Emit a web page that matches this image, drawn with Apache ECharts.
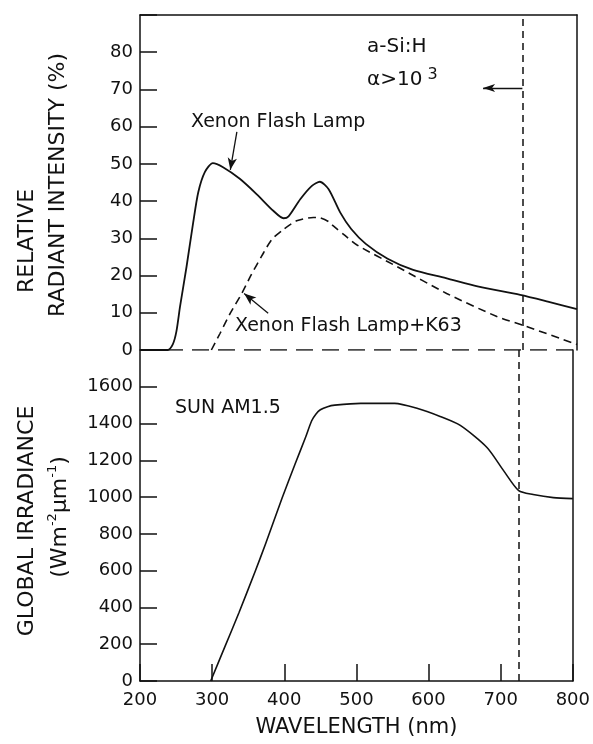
<!DOCTYPE html>
<html>
<head>
<meta charset="utf-8">
<script src="https://cdn.jsdelivr.net/npm/echarts@6/dist/echarts.min.js"></script>
<style>
  html, body { margin: 0; padding: 0; background: #fff; }
  #chart { width: 593px; height: 744px; }
</style>
</head>
<body>
<div id="chart"></div>
<script>
// top panel: relative radiant intensity (%)
const xenonWl = [200, 238, 245, 250, 255, 264, 273, 280, 289, 300, 314, 337, 360, 383, 397, 404, 420, 436, 447, 459, 475, 490, 510, 540, 575, 620, 665, 722, 760, 800]
const xenonVal = [0, 0, 1.5, 5, 11.7, 22.5, 34.2, 42.4, 47.8, 50.2, 49.1, 46, 41.9, 37.4, 35.4, 35.9, 40.5, 44.1, 45.2, 43.2, 36.9, 32.5, 28.5, 24.5, 21.5, 19.3, 17, 14.8, 13, 11]
const k63Wl = [298, 310, 324, 340, 353, 367, 381, 397, 415, 438, 447, 459, 465, 480, 498, 553, 621, 690, 725, 800]
const k63Val = [0, 4.5, 9.9, 15.3, 20.3, 25.2, 29.7, 32.4, 34.7, 35.6, 35.5, 34.5, 33.4, 31, 28.2, 22.4, 15.2, 9, 6.7, 1.5]

// bottom panel: global irradiance, sun AM1.5
const sunWl = [298, 317, 337, 360, 374, 397, 415, 429, 438, 444, 450, 460, 470, 506, 553, 585, 616, 644, 681, 704, 725, 745, 773, 800]
const sunVal = [0, 180, 370, 600, 745, 995, 1180, 1320, 1415, 1452, 1475, 1492, 1500, 1510, 1510, 1482, 1439, 1390, 1270, 1144, 1035, 1014, 997, 992]

const wlTicks = [200, 300, 400, 500, 600, 700, 800]
const cutoffWl = 725

const ink = '#111'
const font = 'DejaVu Sans'

const pairs = (xs, ys) => xs.map((x, i) => [x, ys[i]])

const chart = echarts.init(document.getElementById('chart'), null, { renderer: 'canvas' })

const tickLabel = { color: ink, fontFamily: font, fontSize: 18 }
const frameLine = { show: true, onZero: false, lineStyle: { color: ink, width: 1.5 } }
const cutoffLine = {
  silent: true,
  symbol: 'none',
  label: { show: false },
  lineStyle: { color: ink, width: 1.5, type: [7, 5] },
  data: [{ xAxis: cutoffWl, lineStyle: { color: ink, width: 1.5, type: [7, 5] } }]
}

const arrowStyle = { color: ink, width: 1.3, type: 'solid' }

const option = {
  animation: false,
  backgroundColor: '#fff',
  grid: [
    { left: 140, top: 15, width: 437, height: 335 },
    { left: 140, top: 350, width: 437, height: 331 }
  ],
  xAxis: [
    {
      gridIndex: 0, type: 'value', min: 200, max: 800, interval: 100,
      axisLine: { show: false }, axisTick: { show: false }, axisLabel: { show: false }, splitLine: { show: false }
    },
    {
      gridIndex: 0, type: 'value', position: 'top', min: 200, max: 800,
      axisLine: frameLine, axisTick: { show: false }, axisLabel: { show: false }, splitLine: { show: false }
    },
    {
      gridIndex: 1, type: 'value', min: 200, max: 800, interval: 100,
      axisLine: frameLine,
      axisTick: { show: true, inside: true, length: 17, lineStyle: { color: ink, width: 1.5 } },
      axisLabel: Object.assign({ margin: 10, formatter: v => wlTicks.includes(v) ? String(v) : '' }, tickLabel),
      splitLine: { show: false },
      name: 'WAVELENGTH (nm)',
      nameLocation: 'middle',
      nameGap: 36,
      nameTextStyle: { color: ink, fontFamily: font, fontSize: 21 }
    }
  ],
  yAxis: [
    {
      gridIndex: 0, type: 'value', min: 0, max: 90, interval: 10,
      axisLine: frameLine,
      axisTick: { show: true, inside: true, length: 17, lineStyle: { color: ink, width: 1.5 } },
      axisLabel: Object.assign({ margin: 7, formatter: v => v === 90 ? '' : String(v) }, tickLabel),
      splitLine: { show: false }
    },
    {
      gridIndex: 0, type: 'value', position: 'right', min: 0, max: 90,
      axisLine: frameLine, axisTick: { show: false }, axisLabel: { show: false }, splitLine: { show: false }
    },
    {
      gridIndex: 1, type: 'value', min: 0, max: 1800, interval: 200,
      axisLine: frameLine,
      axisTick: { show: true, inside: true, length: 17, lineStyle: { color: ink, width: 1.5 } },
      axisLabel: Object.assign({ margin: 7, formatter: v => v === 1800 ? '' : String(v) }, tickLabel),
      splitLine: { show: false }
    },
    {
      gridIndex: 1, type: 'value', position: 'right', min: 0, max: 1800,
      axisLine: frameLine, axisTick: { show: false }, axisLabel: { show: false }, splitLine: { show: false }
    }
  ],
  series: [
    {
      // dashed zero line of the top panel
      name: 'baseline',
      type: 'line',
      xAxisIndex: 0, yAxisIndex: 0,
      data: [[200, 0], [800, 0]],
      showSymbol: false,
      silent: true,
      lineStyle: { color: ink, width: 1.5, type: [17, 9] },
      markLine: cutoffLine
    },
    {
      name: 'Xenon Flash Lamp',
      type: 'line',
      xAxisIndex: 0, yAxisIndex: 0,
      data: pairs(xenonWl, xenonVal),
      smooth: 0.25,
      showSymbol: false,
      lineStyle: { color: ink, width: 1.8 },
      markLine: {
        silent: true,
        label: { show: false },
        symbol: 'none',
        lineStyle: arrowStyle,
        data: [
          // annotation arrows
          [{ coord: [333, 58.6], symbol: 'none' }, { coord: [324, 48.4], symbol: 'arrow', symbolSize: [7, 12] }],
          [{ coord: [376, 9.9], symbol: 'none' }, { coord: [343, 15.2], symbol: 'arrow', symbolSize: [7, 12] }],
          [{ coord: [cutoffWl, 70.4], symbol: 'none' }, { coord: [671, 70.4], symbol: 'arrow', symbolSize: [6, 12] }]
        ]
      }
    },
    {
      name: 'Xenon Flash Lamp+K63',
      type: 'line',
      xAxisIndex: 0, yAxisIndex: 0,
      data: pairs(k63Wl, k63Val),
      smooth: 0.25,
      showSymbol: false,
      lineStyle: { color: ink, width: 1.6, type: [8, 5] }
    },
    {
      name: 'SUN AM1.5',
      type: 'line',
      xAxisIndex: 2, yAxisIndex: 2,
      data: pairs(sunWl, sunVal),
      smooth: 0.25,
      showSymbol: false,
      lineStyle: { color: ink, width: 1.6 },
      markLine: cutoffLine
    }
  ],
  graphic: [
    // axis titles
    { type: 'text', x: 27, y: 241, rotation: Math.PI / 2,
      style: { text: 'RELATIVE', fill: ink, font: '22px "DejaVu Sans"', align: 'center', verticalAlign: 'middle' } },
    { type: 'text', x: 58, y: 185, rotation: Math.PI / 2,
      style: { text: 'RADIANT INTENSITY (%)', fill: ink, font: '22px "DejaVu Sans"', align: 'center', verticalAlign: 'middle' } },
    { type: 'text', x: 27, y: 521, rotation: Math.PI / 2,
      style: { text: 'GLOBAL IRRADIANCE', fill: ink, font: '22px "DejaVu Sans"', align: 'center', verticalAlign: 'middle' } },
    { type: 'text', x: 60, y: 517, rotation: Math.PI / 2,
      style: {
        text: '{n|(Wm}{s|-2}{n|μm}{s|-1}{n|)}',
        fill: ink, align: 'center', verticalAlign: 'middle',
        rich: {
          n: { fontFamily: font, fontSize: 22, lineHeight: 28, fill: ink },
          s: { fontFamily: font, fontSize: 13, lineHeight: 28, verticalAlign: 'top', fill: ink }
        }
      } },
    // annotations
    { type: 'text', x: 191, y: 122,
      style: { text: 'Xenon Flash Lamp', fill: ink, font: '19px "DejaVu Sans"', verticalAlign: 'middle' } },
    { type: 'text', x: 235, y: 326,
      style: { text: 'Xenon Flash Lamp+K63', fill: ink, font: '19px "DejaVu Sans"', verticalAlign: 'middle' } },
    { type: 'text', x: 367, y: 47,
      style: { text: 'a-Si:H', fill: ink, font: '20px "DejaVu Sans"', verticalAlign: 'middle' } },
    { type: 'text', x: 367, y: 80,
      style: {
        text: '{n|α>10}{s| 3}',
        verticalAlign: 'middle',
        rich: {
          n: { fontFamily: font, fontSize: 20, lineHeight: 26, fill: ink },
          s: { fontFamily: font, fontSize: 16, lineHeight: 26, verticalAlign: 'top', fill: ink }
        }
      } },
    { type: 'text', x: 175, y: 408,
      style: { text: 'SUN AM1.5', fill: ink, font: '19px "DejaVu Sans"', verticalAlign: 'middle' } }
  ]
}

chart.setOption(option)
</script>
</body>
</html>
